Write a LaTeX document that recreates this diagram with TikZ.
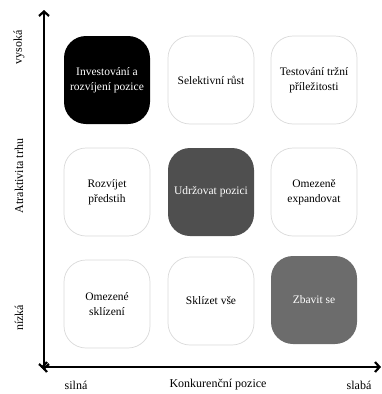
\documentclass[tikz,border=0pt]{standalone}
\usepackage{fontspec}
\setmainfont{Liberation Serif}
\usetikzlibrary{arrows.meta}

\begin{document}
\begin{tikzpicture}[x=1pt, y=-1pt, line cap=round, line join=round,
    cell/.style={draw=cellrim, line width=0.7pt, fill=white, rounded corners=22pt,
      minimum width=86pt, minimum height=88pt, align=center, inner sep=2pt,
      font=\fontsize{11.5}{15.5}\selectfont},
    darkcell/.style={cell, draw=none, text=white},
    axislabel/.style={font=\fontsize{12}{14}\selectfont},
    axis/.style={line width=2.2pt, {Straight Barb[length=4.5pt, width=10pt]}-{Straight Barb[length=4.5pt, width=10pt]}}]
    \definecolor{cellrim}{HTML}{DADADA}
    \definecolor{keepgray}{HTML}{4F4F4F}
    \definecolor{dropgray}{HTML}{6C6C6C}

    \useasboundingbox (0,0) rectangle (382,394);

    % --- the nine cells, row by row
    \node[darkcell, fill=black] (invest) at (107,80) {Investování a\\rozvíjení pozice};
    \node[cell] (select) at (211,80) {Selektivní růst};
    \node[cell] (test) at (314,80) {Testování tržní\\příležitosti};

    \node[cell] (lead) at (107,192) {Rozvíjet\\předstih};
    \node[darkcell, fill=keepgray] (keep) at (211,192) {Udržovat pozici};
    \node[cell] (expand) at (314,192) {Omezeně\\expandovat};

    \node[cell] (harvest) at (107,304) {Omezené\\sklízení};
    \node[cell] (reap) at (211,301) {Sklízet vše};
    \node[darkcell, fill=dropgray] (drop) at (314,300) {Zbavit se};

    % --- the two axes
    \coordinate (top) at (44,10);
    \coordinate (bottom) at (44,370);
    \coordinate (left) at (41,367);
    \coordinate (right) at (381,367);
    \draw[axis] (bottom) -- (top);
    \draw[axis] (left) -- (right);

    % --- labels on the axes
    \node[axislabel, rotate=90] (high) at (19,47) {vysoká};
    \node[axislabel, rotate=90] (appeal) at (19,176) {Atraktivita trhu};
    \node[axislabel, rotate=90] (low) at (19,318) {nízká};
    \node[axislabel] (strong) at (76,385) {silná};
    \node[axislabel] (position) at (218,385) {Konkurenční pozice};
    \node[axislabel] (weak) at (359,385) {slabá};
\end{tikzpicture}
\end{document}
